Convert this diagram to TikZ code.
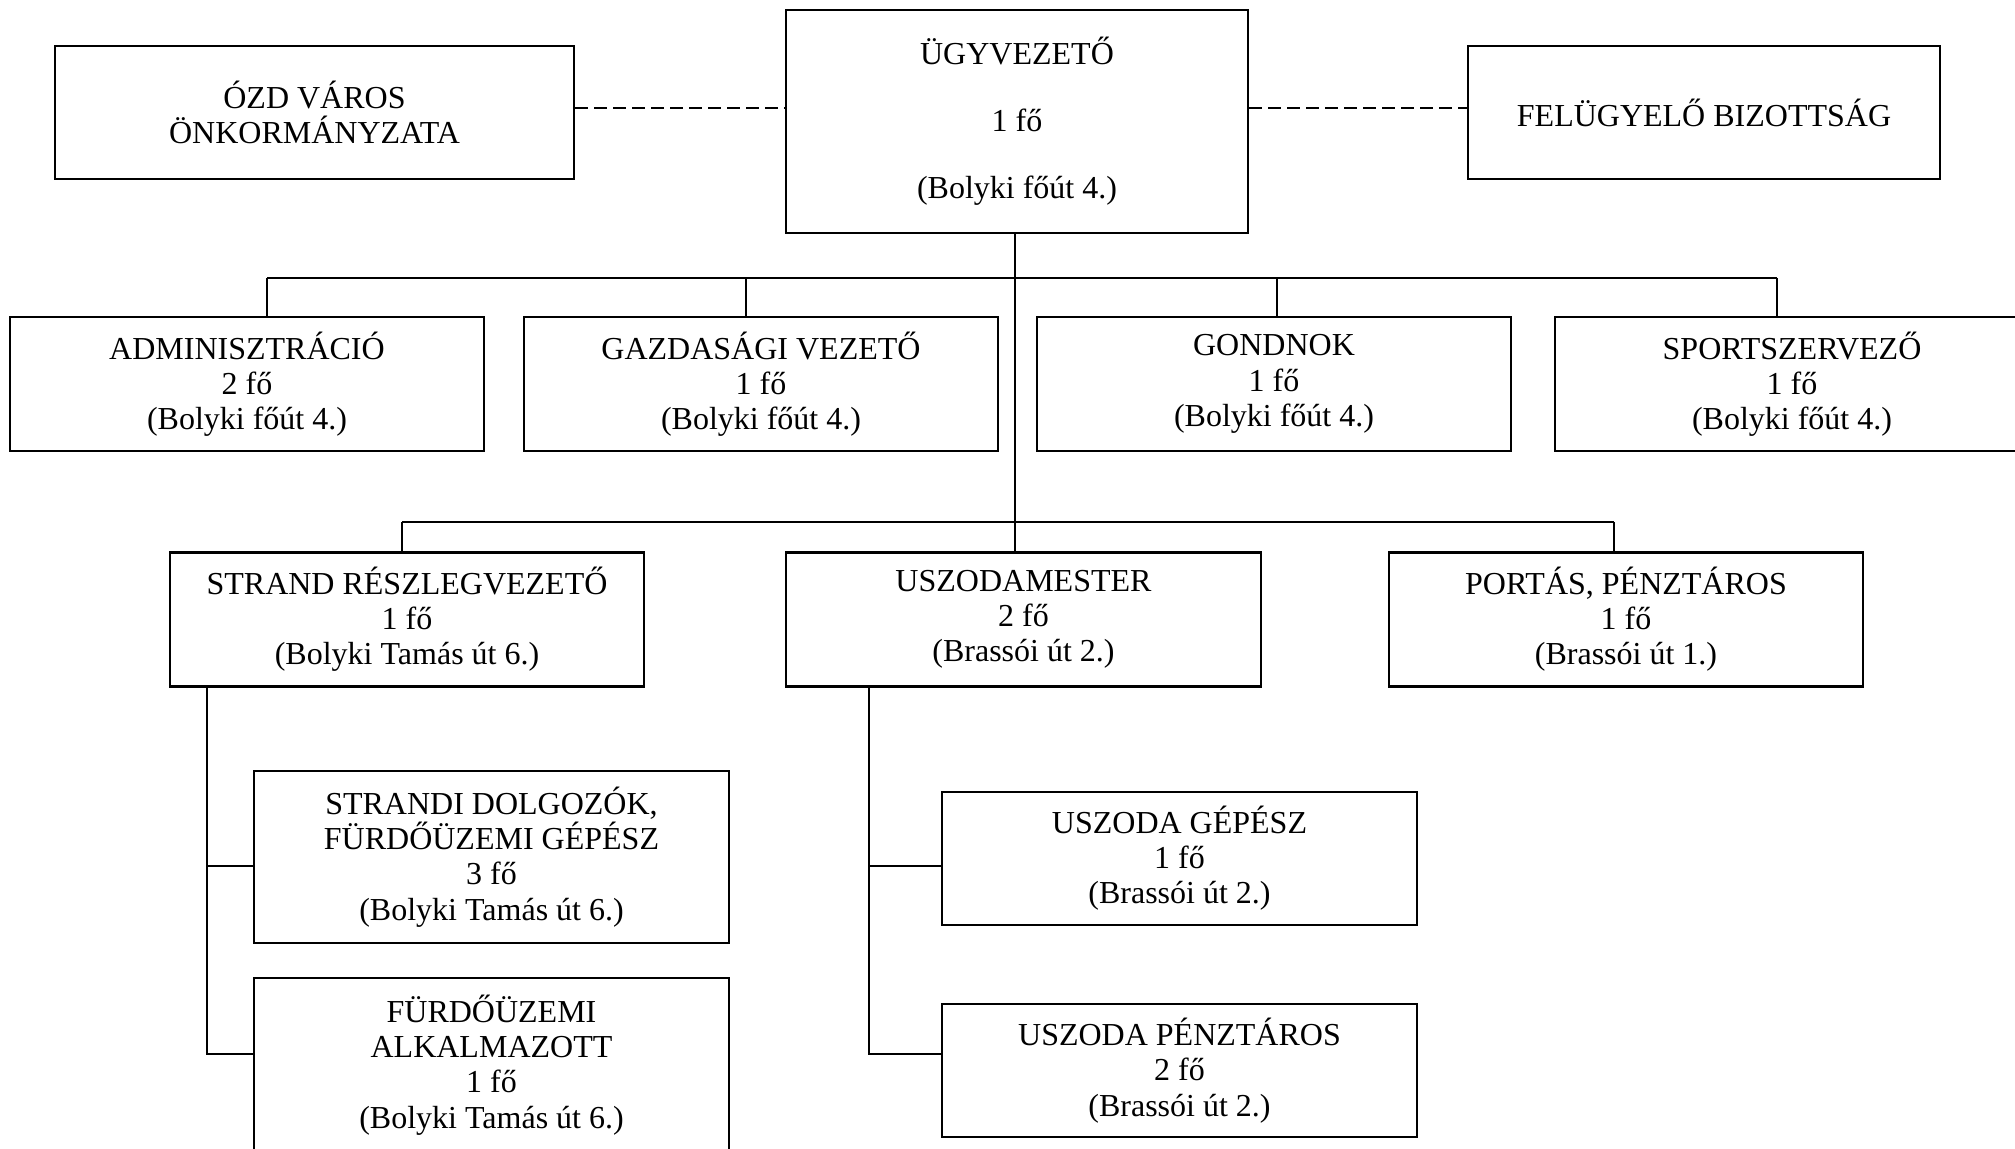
\documentclass[tikz,border=0pt]{standalone}
\usepackage{fontspec}
\setmainfont{Liberation Serif}
\begin{document}
\begin{tikzpicture}[x=0.01cm,y=-0.01cm,
	box/.style={draw,line width=0.6pt,align=center,inner sep=0pt,minimum width=4.74cm,minimum height=1.34cm,font=\fontsize{9.1}{10}\selectfont},
	conn/.style={line width=0.6pt}]
	\useasboundingbox (0,0) rectangle (2015,1149);
	\node[box,minimum width=5.19cm,minimum height=1.33cm] (ozd) at (314.5,112.5) {ÓZD VÁROS\\ÖNKORMÁNYZATA};
	\node[box,minimum width=4.62cm,minimum height=2.23cm] (ugy) at (1017,121.5) {ÜGYVEZETŐ\\[0.32cm]1 fő\\[0.32cm](Bolyki főút 4.)};
	\node[box,minimum width=4.72cm,minimum height=1.33cm] (fb) at (1704,112.5) {FELÜGYELŐ BIZOTTSÁG};
	\node[box] (adm) at (247,384) {ADMINISZTRÁCIÓ\\2 fő\\(Bolyki főút 4.)};
	\node[box] (gazd) at (761,384) {GAZDASÁGI VEZETŐ\\1 fő\\(Bolyki főút 4.)};
	\node[box] (gond) at (1274,384) {GONDNOK\\1 fő\\(Bolyki főút 4.)};
	\node[box] (sport) at (1792,384) {SPORTSZERVEZŐ\\1 fő\\(Bolyki főút 4.)};
	\node[box] (strand) at (407,619.5) {STRAND RÉSZLEGVEZETŐ\\1 fő\\(Bolyki Tamás út 6.)};
	\node[box] (usz) at (1023.5,619.5) {USZODAMESTER\\2 fő\\(Brassói út 2.)};
	\node[box] (port) at (1626,619.5) {PORTÁS, PÉNZTÁROS\\1 fő\\(Brassói út 1.)};
	\node[box,minimum height=1.72cm] (sd) at (491.5,857) {STRANDI DOLGOZÓK,\\FÜRDŐÜZEMI GÉPÉSZ\\3 fő\\(Bolyki Tamás út 6.)};
	\node[box,minimum height=1.74cm] (fu) at (491.5,1065) {FÜRDŐÜZEMI\\ALKALMAZOTT\\1 fő\\(Bolyki Tamás út 6.)};
	\node[box,minimum height=1.33cm] (ugep) at (1179.5,858.5) {USZODA GÉPÉSZ\\1 fő\\(Brassói út 2.)};
	\node[box,minimum height=1.33cm] (upenz) at (1179.5,1070.5) {USZODA PÉNZTÁROS\\2 fő\\(Brassói út 2.)};
	\coordinate (dl) at (0,108);
	\draw[conn,dash pattern=on 3.6pt off 1.8pt] (ozd.east |- dl) -- (ugy.west |- dl);
	\draw[conn,dash pattern=on 3.6pt off 1.8pt] (ugy.east |- dl) -- (fb.west |- dl);
	\coordinate (bus1) at (1015,278);
	\coordinate (bus2) at (1015,522);
	\coordinate (a1) at (267,278);
	\coordinate (a2) at (746,278);
	\coordinate (a3) at (1277,278);
	\coordinate (a4) at (1777,278);
	\coordinate (c1) at (402,522);
	\coordinate (c3) at (1614,522);
	\draw[conn] (ugy.south -| bus1) -- (bus2) -- (bus2 |- usz.north);
	\draw[conn] (a1) -- (a4);
	\draw[conn] (a1) -- (a1 |- adm.north);
	\draw[conn] (a2) -- (a2 |- gazd.north);
	\draw[conn] (a3) -- (a3 |- gond.north);
	\draw[conn] (a4) -- (a4 |- sport.north);
	\draw[conn] (c1) -- (c3);
	\draw[conn] (c1) -- (c1 |- strand.north);
	\draw[conn] (c3) -- (c3 |- port.north);
	\coordinate (sa) at (207,866);
	\coordinate (sb) at (207,1054);
	\coordinate (ua) at (869,866);
	\coordinate (ub) at (869,1054);
	\draw[conn] (strand.south -| sa) -- (sb) -- (sb -| fu.west);
	\draw[conn] (sa) -- (sa -| sd.west);
	\draw[conn] (usz.south -| ua) -- (ub) -- (ub -| upenz.west);
	\draw[conn] (ua) -- (ua -| ugep.west);
\end{tikzpicture}
\end{document}
